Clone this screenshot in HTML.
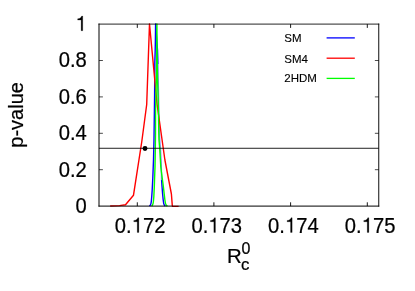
<!DOCTYPE html>
<html>
<head>
<meta charset="utf-8">
<style>
html,body{margin:0;padding:0;background:#fff;}
body{width:415px;height:291px;overflow:hidden;}
svg{display:block;will-change:transform;}
text{font-family:"Liberation Sans",sans-serif;fill:#000;}
</style>
</head>
<body>
<svg width="415" height="291" viewBox="0 0 415 291">
<rect width="415" height="291" fill="#fff"/>
<!-- curves -->
<g fill="none" stroke-width="1.4" stroke-linejoin="round" stroke-linecap="butt">
<polyline stroke="#0000ff" points="149.4,206.1 150.3,205.2 150.9,203.8 151.3,201.5 151.7,197 152.2,190 152.8,178 153.5,160 153.75,150 154.0,140 154.4,111 154.6,96 154.85,62 155.2,50 155.4,40 155.6,24 157.5,50 157.8,60 157.9,64"/>
<polyline stroke="#0000ff" opacity="0.5" points="157.9,64 158.1,78 158.4,89 158.8,111 159.4,133 159.7,140 160.5,150 161.0,160 161.3,167 161.5,175 161.6,180"/>
<polyline stroke="#0000ff" points="161.6,180 162.0,186 162.6,194 163.2,200 163.7,203.5 164.4,205.2 165.4,206.1"/>
<polyline stroke="#ff0000" points="110.2,206 119.5,205.6 125.5,204.8 133.5,195.2 141.8,141.5 146.7,104.5 149.5,24 157.1,104.5 164.9,160 171.4,194 172.3,205.6 172.5,206.4 178.6,206.4"/>
<polyline stroke="#00ff00" points="151.6,206.1 152.4,205.2 153.0,203.8 153.4,201.5 153.8,197 154.3,187 154.6,178 155,167 155.3,150 155.5,133 155.55,111 155.8,100 156.05,89 156.45,78 156.65,62 156.9,24 157.2,62 157.55,78 157.85,89 158.15,100 158.45,111 158.8,133 159,140 159.8,150 160.4,160 160.8,167 162.2,178 163.3,186 164.2,194 164.9,200 165.5,203.5 166.3,205.2 167.4,206.1"/>
</g>
<!-- reference line and point -->
<line x1="99.0" y1="148.27" x2="378.76" y2="148.27" stroke="#000" stroke-width="1" opacity="0.87"/>
<circle cx="145" cy="148.5" r="2.45" fill="#000"/>
<!-- frame and ticks -->
<g stroke="#000" stroke-width="1" fill="none">
<path stroke-linecap="square" opacity="0.86" d="M99.0 24.1H378.76"/>
<path stroke-linecap="square" d="M99.0 206.1H378.76M99.0 24.1V206.1"/>
<path stroke-linecap="square" opacity="0.95" d="M378.76 24.1V206.1"/>
<path opacity="0.9" d="M137.3 206.1v-3.8M137.3 24.1v3.8M213.9 206.1v-3.8M213.9 24.1v3.8M290.6 206.1v-3.8M290.6 24.1v3.8M367.3 206.1v-3.8M367.3 24.1v3.8"/>
<path opacity="0.7" d="M99.0 60.5h3.9M378.76 60.5h-3.9M99.0 96.9h3.9M378.76 96.9h-3.9M99.0 133.3h3.9M378.76 133.3h-3.9M99.0 169.7h3.9M378.76 169.7h-3.9"/>
</g>
<!-- tick labels -->
<g font-size="20.2" stroke="#000" stroke-width="0.22" stroke-linejoin="round">
<g transform="translate(0,31.00) scale(1,1.055)"><path stroke-width="10.9" transform="translate(75.57,0) scale(0.0202,-0.0202)" d="M355 12V700H300C283 636 230 583 104 573V512H275V12Z"/></g>
<g transform="translate(0,67.40) scale(1,1.055)"><text x="58.72" y="0">0.8</text></g>
<g transform="translate(0,103.80) scale(1,1.055)"><text x="58.72" y="0">0.6</text></g>
<g transform="translate(0,140.20) scale(1,1.055)"><text x="58.72" y="0">0.4</text></g>
<g transform="translate(0,176.60) scale(1,1.055)"><text x="58.72" y="0">0.2</text></g>
<g transform="translate(0,213.00) scale(1,1.055)"><text x="75.57" y="0">0</text></g>
<g transform="translate(0,232.70) scale(1,1.055)"><text x="114.83" y="0">0.</text><path stroke-width="10.9" transform="translate(131.68,0) scale(0.0202,-0.0202)" d="M355 12V700H300C283 636 230 583 104 573V512H275V12Z"/><text x="142.91" y="0">72</text></g>
<g transform="translate(0,232.70) scale(1,1.055)"><text x="191.43" y="0">0.</text><path stroke-width="10.9" transform="translate(208.28,0) scale(0.0202,-0.0202)" d="M355 12V700H300C283 636 230 583 104 573V512H275V12Z"/><text x="219.51" y="0">73</text></g>
<g transform="translate(0,232.70) scale(1,1.055)"><text x="268.13" y="0">0.</text><path stroke-width="10.9" transform="translate(284.98,0) scale(0.0202,-0.0202)" d="M355 12V700H300C283 636 230 583 104 573V512H275V12Z"/><text x="296.21" y="0">74</text></g>
<g transform="translate(0,232.70) scale(1,1.055)"><text x="344.83" y="0">0.</text><path stroke-width="10.9" transform="translate(361.68,0) scale(0.0202,-0.0202)" d="M355 12V700H300C283 636 230 583 104 573V512H275V12Z"/><text x="372.91" y="0">75</text></g>
</g>
<!-- axis titles -->
<g stroke="#000" stroke-width="0.22" stroke-linejoin="round">
<text transform="translate(227.1,263.2) scale(1,1.03)" font-size="20.4">R</text>
<text transform="translate(241.5,253.5) scale(1,1.03)" font-size="16">0</text>
<text x="240.9" y="269.6" font-size="16.8">c</text>
<text transform="translate(22.9,114.9) rotate(-90)" font-size="20" text-anchor="middle">p-value</text>
</g>
<!-- legend -->
<g font-size="11.5" stroke="#000" stroke-width="0.12">
<text x="284.3" y="42.4">SM</text>
<text x="284.3" y="62.6">SM4</text>
<text x="284.3" y="82.4">2HDM</text>
</g>
<g stroke-width="1.3" fill="none">
<line x1="326.6" y1="37.9" x2="354.8" y2="37.9" stroke="#0000ff"/>
<line x1="326.6" y1="58.2" x2="354.8" y2="58.2" stroke="#ff0000"/>
<line x1="326.6" y1="78.4" x2="354.8" y2="78.4" stroke="#00ff00"/>
</g>
</svg>
</body>
</html>
